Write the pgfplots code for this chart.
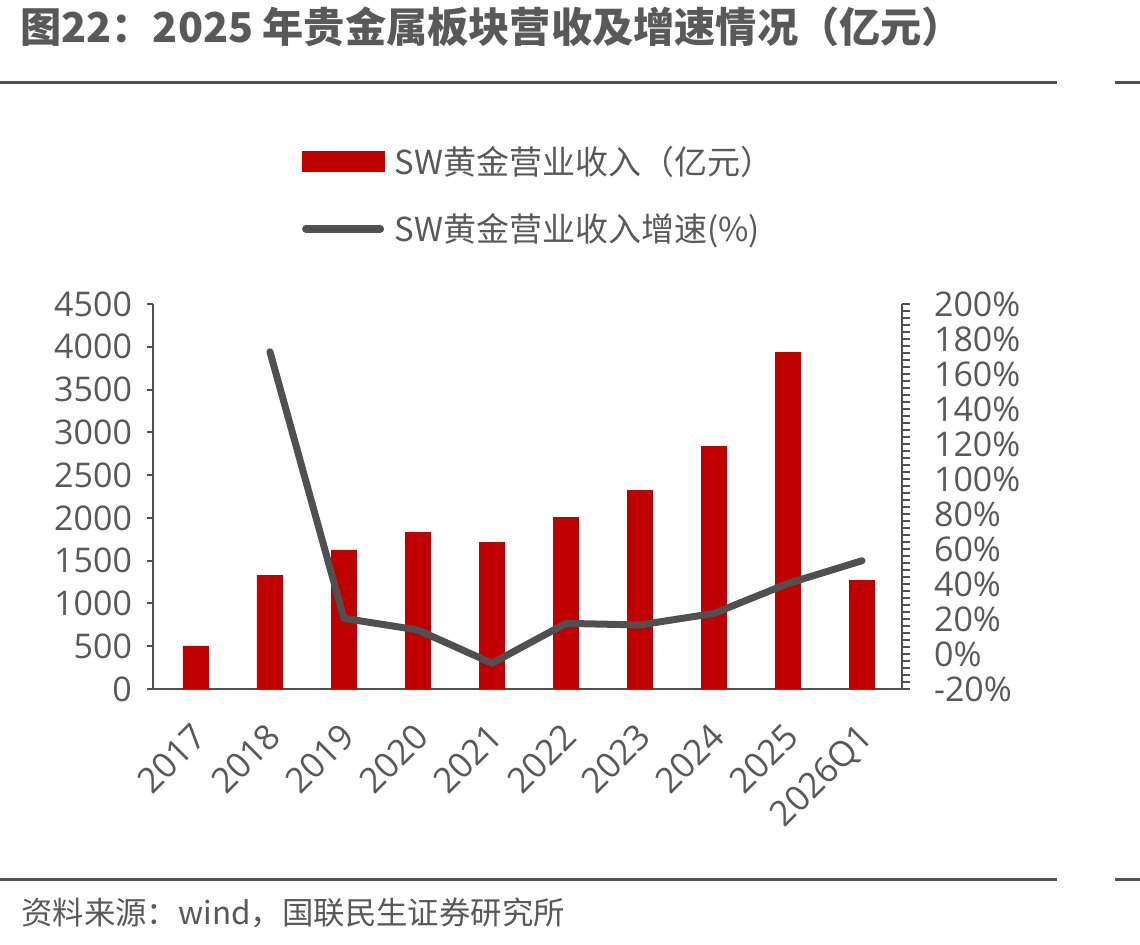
\documentclass[border=0pt]{standalone}
\usepackage{pgfplots}
\pgfplotsset{compat=1.18}
\usepackage{fontspec}
\setmainfont{Open Sans}
\newfontfamily\cjk{Noto Sans CJK SC}
\definecolor{barred}{HTML}{C00000}
\definecolor{linegray}{HTML}{505050}
\definecolor{textgray}{HTML}{595959}
\definecolor{axgray}{HTML}{505050}
\begin{document}
\begin{tikzpicture}
\begin{scope}[x=0.5pt,y=-0.5pt]
\useasboundingbox (0,0) rectangle (1140,945);
\coordinate (ll) at (153,689);
\node[anchor=west, inner sep=0pt, text=textgray, font=\cjk\bfseries\fontsize{20.6}{24}\selectfont] at (20,27) {图22：2025 年贵金属板块营收及增速情况（亿元）};
\draw[axgray, line width=1.5pt] (0,83) -- (1057,83);
\draw[axgray, line width=1.5pt] (1115,83) -- (1140,83);
\draw[axgray, line width=1.5pt] (0,879) -- (1057,879);
\draw[axgray, line width=1.5pt] (1115,879) -- (1140,879);
\node[anchor=west, inner sep=0pt, text=textgray, font=\cjk\fontsize{15.7}{18}\selectfont] at (21,913) {资料来源：wind，国联民生证券研究所};
\end{scope}
\begin{axis}[
  at={(ll)}, anchor=south west,
  scale only axis, width=374.5pt, height=192.5pt,
  xmin=-0.58, xmax=9.54, ymin=0, ymax=4500,
  axis x line*=bottom, axis y line*=left,
  axis line style={axgray, line width=1.2pt},
  xtick={0,...,9},
  xticklabels={2017,2018,2019,2020,2021,2022,2023,2024,2025,2026Q1},
  x tick style={draw=none},
  ytick={0,500,...,4500},
  tick align=outside,
  y tick style={axgray, line width=1pt},
  major tick length=3pt,
  /pgf/number format/assume math mode=true,
  /pgf/number format/1000 sep={},
  tick label style={text=textgray, font=\fontsize{17}{19}\selectfont},
  yticklabel style={xshift=-4pt},
  xticklabel style={font=\fontsize{17.5}{19}\selectfont, xshift=-2.5pt, yshift=-8pt, rotate=45, anchor=north east},
  ybar, bar width=0.35,
]
\addplot[fill=barred, draw=none] coordinates {(0,503) (1,1332) (2,1625) (3,1835) (4,1718) (5,2010) (6,2326) (7,2840) (8,3939) (9,1274)};
\end{axis}
\begin{axis}[
  at={(ll)}, anchor=south west,
  scale only axis, width=374.5pt, height=192.5pt,
  xmin=-0.58, xmax=9.54, ymin=-20, ymax=200,
  hide x axis, axis y line*=right,
  axis line style={axgray, line width=1.2pt},
  ytick={-20,0,...,200},
  minor y tick num=4,
  tick align=outside,
  y tick style={axgray, line width=1pt},
  major tick length=4pt, minor tick length=4pt,
  /pgf/number format/assume math mode=true,
  yticklabel={\pgfmathprintnumber{\tick}\%},
  tick label style={text=textgray, font=\fontsize{17}{19}\selectfont},
  yticklabel style={xshift=8.5pt},
  legend style={draw=none, fill=none, at={(axis description cs:0.198,1.146)}, anchor=south west, inner sep=0pt, row sep=15pt,
    nodes={inner sep=1.5pt, text=textgray, font=\cjk\fontsize{16.5}{18}\selectfont}},
  legend cell align=left,
]
\addlegendimage{legend image code/.code={\fill[barred] (0pt,-5pt) rectangle (41pt,5pt); \path (43pt,0pt);}}
\addlegendentry{SW黄金营业收入（亿元）}
\addplot[linegray, line width=3.5pt, line join=round, line cap=round,
  legend image code/.code={\draw[linegray, line width=4pt, line cap=round] (2pt,0pt) -- (39pt,0pt); \path (43pt,0pt);}]
  coordinates {(1,172.7) (2,20.4) (3,13.7) (4,-5.3) (5,17.5) (6,16.6) (7,23.2) (8,40.3) (9,53.3)};
\addlegendentry{SW黄金营业收入增速(\%)}
\end{axis}
\end{tikzpicture}
\end{document}
